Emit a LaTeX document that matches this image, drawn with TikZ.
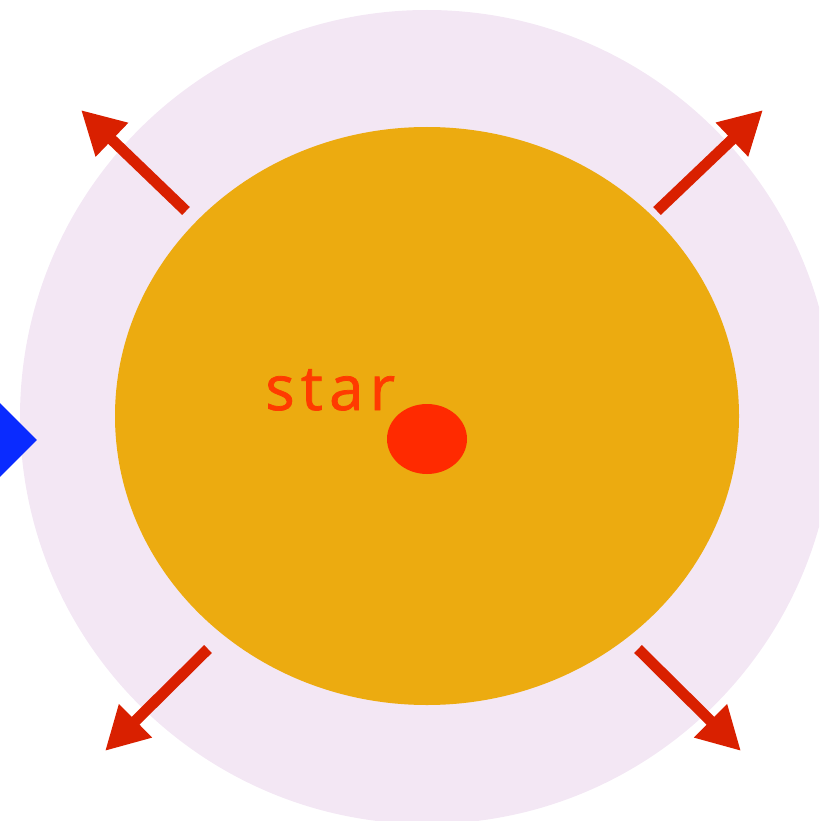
\documentclass[tikz,border=0pt]{standalone}
\usepackage{fontspec}
\newfontfamily\labelfont[LetterSpace=10,FakeBold=1.2]{Open Sans}
\usetikzlibrary{shapes.geometric,arrows.meta}
\definecolor{lavender}{HTML}{F3E7F4}
\definecolor{starorange}{HTML}{ECAB10}
\definecolor{dotred}{HTML}{FF2A00}
\definecolor{textred}{HTML}{FF3B00}
\definecolor{arrowred}{HTML}{D92000}
\definecolor{diamondblue}{HTML}{0A2BFF}
\tikzset{
  blob/.style={ellipse, inner sep=0pt, draw=none},
  ray/.style={draw=arrowred, line width=11pt, -{Triangle[length=43pt,width=44pt]}},
}
\begin{document}
\begin{tikzpicture}[x=1pt,y=-1pt]
\useasboundingbox (0,0) rectangle (819,821);
\clip (0,0) rectangle (819,821);
\node[blob, fill=lavender, minimum width=814pt, minimum height=814pt] (halo) at (427,417) {};
\node[diamond, fill=diamondblue, inner sep=0pt, minimum width=80pt, minimum height=80pt] (blue) at (-3,440) {};
\node[blob, fill=starorange, minimum width=624pt, minimum height=578pt] (star) at (427,416) {};
\node[blob, fill=dotred, minimum width=80pt, minimum height=70pt] (dot) at (427,439) {};
\node[anchor=base west, inner sep=0pt, text=textred, font=\labelfont\fontsize{62}{62}\selectfont] (lbl) at (265,410) {star};
\coordinate (ulA) at (186,211); \coordinate (ulB) at (81,110);
\coordinate (urA) at (657,211); \coordinate (urB) at (763,110);
\coordinate (llA) at (208,649); \coordinate (llB) at (105,751);
\coordinate (lrA) at (638,649); \coordinate (lrB) at (741,751);
\draw[ray] (ulA) -- (ulB);
\draw[ray] (urA) -- (urB);
\draw[ray] (llA) -- (llB);
\draw[ray] (lrA) -- (lrB);
\end{tikzpicture}
\end{document}
